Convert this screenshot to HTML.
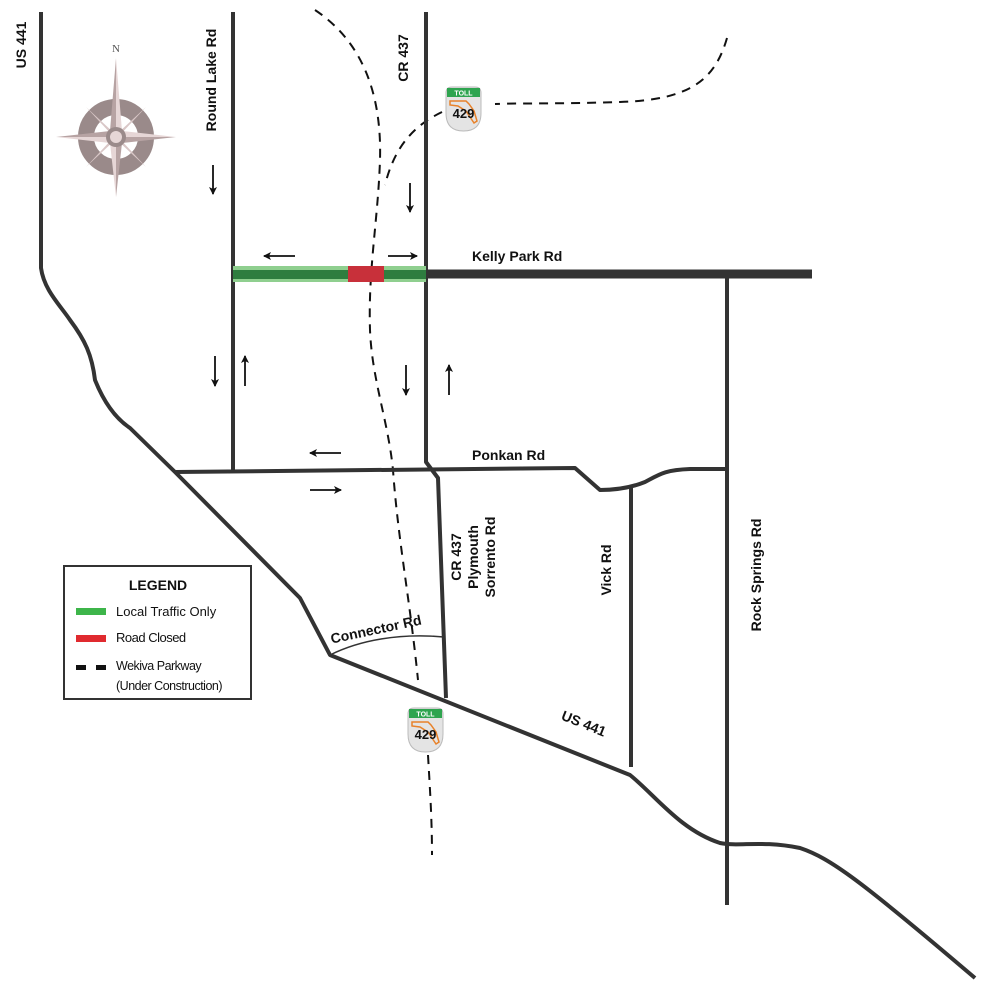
<!DOCTYPE html>
<html><head><meta charset="utf-8"><style>
html,body{margin:0;padding:0;background:#fff;}
svg{display:block;}
text{font-family:"Liberation Sans",Arial,sans-serif;fill:#111;}
</style></head><body>
<svg width="982" height="986" viewBox="0 0 982 986" xmlns="http://www.w3.org/2000/svg">
<defs>
<marker id="ah" markerWidth="8" markerHeight="8" refX="7" refY="4" orient="auto" markerUnits="userSpaceOnUse"><path d="M0,0 L8,4 L0,8 L2,4 z" fill="#111"/></marker>
<g id="shield">
<path d="M0,6 Q0,0 6,0 L29,0 Q35,0 35,6 L35,26 Q35,44 17.5,44 Q0,44 0,26 Z" fill="#e4e4e4" stroke="#bbb" stroke-width="1"/>
<rect x="1" y="1" width="33" height="9" fill="#2ea44f"/>
<text x="17.5" y="8.5" font-size="7" font-weight="bold" text-anchor="middle" style="fill:#fff">TOLL</text>
<path d="M4,14 L20,14 L23,17 L28,24 L31,34 L28,36 L24,30 L20,24 L12,19 L4,18 Z" fill="none" stroke="#e8822a" stroke-width="1.5"/>
<text x="17.5" y="31" font-size="13" font-weight="bold" text-anchor="middle">429</text>
</g>
</defs>

<!-- Dashed Wekiva Parkway -->
<g fill="none" stroke="#111" stroke-width="2" stroke-dasharray="9,7">
<path d="M315,10 C360,40 382,90 380,160 C378,220 368,270 370,330 C372,380 388,420 393,470 C398,540 410,600 418,680"/>
<path d="M428,755 C430,790 432,820 432,855"/>
<path d="M727,38 C715,80 690,100 620,102 C560,104 520,103 495,104"/>
<path d="M442,112 C415,125 395,145 385,185"/>
</g>

<!-- Roads -->
<g fill="none" stroke="#333" stroke-width="4" stroke-linejoin="round">
<path d="M41,12 L41,268 C44,290 60,305 70,320 C85,340 92,355 95,380 C105,405 118,420 130,428 L175,472 L300,598 L330,655 L630,775 C655,795 680,830 720,843 C740,847 760,840 800,848 C830,858 860,880 975,978"/>
<path d="M233,12 L233,472"/>
<path d="M426,12 L426,462 L438,478 L446,698"/>
<path d="M727,274 L727,905"/>
<path d="M175,472 L575,468 L600,490 C615,490 630,488 645,482 C660,474 665,470 690,469 L727,469"/>
<path d="M631,488 L631,767"/>
</g>
<path d="M426,274 L812,274" stroke="#333" stroke-width="9"/>
<path d="M330,655 C360,640 400,633 444,637" fill="none" stroke="#333" stroke-width="1.5"/>

<!-- Kelly Park local traffic/closed -->
<rect x="233" y="266" width="193" height="16" fill="#8fcf8f"/>
<rect x="233" y="270" width="193" height="9" fill="#2e7d3f"/>
<rect x="348" y="266" width="36" height="16" fill="#c8303a"/>

<!-- Arrows -->
<g stroke="#111" stroke-width="1.8" marker-end="url(#ah)">
<line x1="213" y1="165" x2="213" y2="194"/>
<line x1="295" y1="256" x2="264" y2="256"/>
<line x1="388" y1="256" x2="417" y2="256"/>
<line x1="410" y1="183" x2="410" y2="212"/>
<line x1="215" y1="356" x2="215" y2="386"/>
<line x1="245" y1="386" x2="245" y2="356"/>
<line x1="406" y1="365" x2="406" y2="395"/>
<line x1="449" y1="395" x2="449" y2="365"/>
<line x1="341" y1="453" x2="310" y2="453"/>
<line x1="310" y1="490" x2="341" y2="490"/>
</g>

<!-- Compass -->
<g transform="translate(116,137)">
<circle r="30" fill="none" stroke="#9a8a8a" stroke-width="16"/>
<g fill="#d9c7c7" stroke="none">
<path d="M0,-79 L6,-6 L0,0 Z" fill="#e6d6d6"/><path d="M0,-79 L-6,-6 L0,0 Z" fill="#b7a3a3"/>
<path d="M0,60 L6,6 L0,0 Z" fill="#b7a3a3"/><path d="M0,60 L-6,6 L0,0 Z" fill="#e6d6d6"/>
<path d="M60,0 L6,-6 L0,0 Z" fill="#e6d6d6"/><path d="M60,0 L6,6 L0,0 Z" fill="#b7a3a3"/>
<path d="M-60,0 L-6,-6 L0,0 Z" fill="#b7a3a3"/><path d="M-60,0 L-6,6 L0,0 Z" fill="#e6d6d6"/>
<path d="M30,-30 L4,-2 L2,-4 Z"/><path d="M-30,-30 L-4,-2 L-2,-4 Z"/>
<path d="M30,30 L4,2 L2,4 Z"/><path d="M-30,30 L-4,2 L-2,4 Z"/>
</g>
<circle r="10" fill="#9a8a8a"/><circle r="6" fill="#e6d6d6"/>
</g>
<text x="116" y="52" font-size="11" text-anchor="middle" style="font-family:'Liberation Serif',serif;fill:#555">N</text>

<!-- Shields -->
<use href="#shield" x="446" y="87"/>
<use href="#shield" x="408" y="708"/>

<!-- Labels -->
<g font-size="14" font-weight="bold">
<text transform="translate(26,45) rotate(-90)" text-anchor="middle">US 441</text>
<text transform="translate(216,80) rotate(-90)" text-anchor="middle">Round Lake Rd</text>
<text transform="translate(408,58) rotate(-90)" text-anchor="middle">CR 437</text>
<text x="472" y="261">Kelly Park Rd</text>
<text x="472" y="460">Ponkan Rd</text>
<text transform="translate(461,557) rotate(-90)" text-anchor="middle">CR 437</text>
<text transform="translate(478,557) rotate(-90)" text-anchor="middle">Plymouth</text>
<text transform="translate(495,557) rotate(-90)" text-anchor="middle">Sorrento Rd</text>
<text transform="translate(611,570) rotate(-90)" text-anchor="middle">Vick Rd</text>
<text transform="translate(761,575) rotate(-90)" text-anchor="middle">Rock Springs Rd</text>
<text transform="translate(377,634) rotate(-12)" text-anchor="middle">Connector Rd</text>
<text transform="translate(582,728) rotate(22)" text-anchor="middle">US 441</text>
</g>

<!-- Legend -->
<rect x="64" y="566" width="187" height="133" fill="#fff" stroke="#333" stroke-width="2"/>
<text x="158" y="590" font-size="14" font-weight="bold" text-anchor="middle">LEGEND</text>
<rect x="76" y="608" width="30" height="7" fill="#3db54a"/>
<text x="116" y="616" font-size="13">Local Traffic Only</text>
<rect x="76" y="635" width="30" height="7" fill="#e02a2f"/>
<text x="116" y="642" font-size="13" style="letter-spacing:-0.5px">Road Closed</text>
<rect x="76" y="665" width="10" height="5" fill="#111"/>
<rect x="96" y="665" width="10" height="5" fill="#111"/>
<text x="116" y="670" font-size="12.5" style="letter-spacing:-0.5px">Wekiva Parkway</text>
<text x="116" y="690" font-size="12.5" style="letter-spacing:-0.5px">(Under Construction)</text>
</svg>
</body></html>
